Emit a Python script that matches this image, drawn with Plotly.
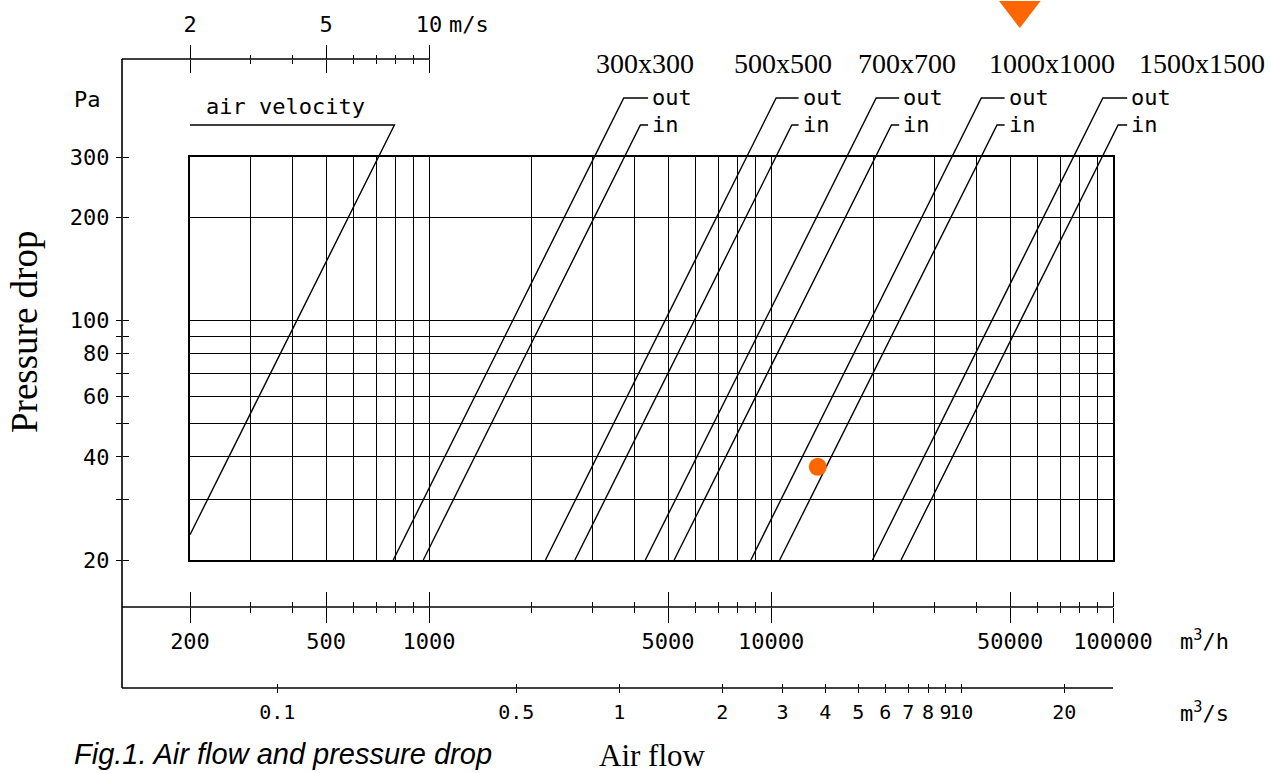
import math
import plotly.graph_objects as go

# ---------------- data ----------------
grid_flow = [200, 300, 400, 500, 600, 700, 800, 900, 1000,
             2000, 3000, 4000, 5000, 6000, 7000, 8000, 9000, 10000,
             20000, 30000, 40000, 50000, 60000, 70000, 80000, 90000, 100000]
grid_dp = [20, 30, 40, 50, 60, 70, 80, 90, 100, 200, 300]

flow_major = [200, 500, 1000, 5000, 10000, 50000, 100000]
flow_major_text = ["200", "500", "1000", "5000", "10000", "50000", "100000"]
flow_minor = [300, 400, 600, 700, 800, 900, 2000, 3000, 4000, 6000, 7000, 8000, 9000,
              20000, 30000, 40000, 60000, 70000, 80000, 90000]

dp_major = [20, 40, 60, 80, 100, 200, 300]
dp_major_text = ["20", "40", "60", "80", "100", "200", "300"]
dp_minor = [30, 50, 70, 90]

m3s_ticks = [0.1, 0.5, 1, 2, 3, 4, 5, 6, 7, 8, 9, 10, 20]
m3s_text = ["0.1", "0.5", "1", "2", "3", "4", "5", "6", "7", "8", "9", "10", "20"]

vel_major = [2, 5, 10]
vel_major_text = ["2", "5", "10"]
vel_minor = [3, 4, 6, 7, 8, 9]

sizes = ["300x300", "500x500", "700x700", "1000x1000", "1500x1500"]
out_flow_20pa = [786, 2190, 4290, 8730, 19800]
in_flow_20pa = [962, 2670, 5210, 10600, 24000]
out_flow_top = [3710, 10350, 20300, 41200, 93400]
in_flow_top = [4150, 11500, 22500, 45800, 103500]
leader_end_flow = [4370, 12040, 23700, 48200, 110000]
out_top_dp = 446
in_top_dp = 372
start_dp = 20

vel_line_flow = [200, 792, 200]
vel_line_dp = [23.7, 372, 372]

point_flow = [13700]
point_dp = [37.4]
pointer_flow = [53400]
pointer_dp = [805]

# ---------------- layout geometry ----------------
W, H = 1270, 773
L10 = math.log10


def lx(px):  # pixel x -> log10(flow m3/h)
    return L10(200) + (px - 190) * (5 - L10(200)) / (1113 - 190)


def ly(py):  # pixel y -> log10(Pa)
    return L10(20) + (560 - py) * (L10(300) - L10(20)) / (560 - 157)


def fx(px):
    return px / W


def fy(py):
    return 1 - py / H


CAD = "DejaVu Sans Mono, monospace"
SERIF = "Liberation Serif, Times New Roman, serif"
BLACK = "#000000"
ORANGE = "#FF6600"
LW = 1.4

xr_full = [lx(0), lx(W)]
yr_full = [ly(H), ly(0)]
LOG3600 = L10(3600)

fig = go.Figure()


def dummy(xa, ya, xs, ys):
    fig.add_trace(go.Scatter(x=xs, y=ys, xaxis=xa, yaxis=ya, mode="markers",
                             marker=dict(opacity=0), hoverinfo="skip", showlegend=False))


dummy("x", "y", grid_flow, [grid_dp[0]] * len(grid_flow))
dummy("x3", "y2", flow_major, [grid_dp[0]] * len(flow_major))
dummy("x4", "y2", m3s_ticks, [grid_dp[0]] * len(m3s_ticks))
dummy("x5", "y2", m3s_ticks, [grid_dp[0]] * len(m3s_ticks))
dummy("x6", "y2", vel_major, [grid_dp[0]] * len(vel_major))
dummy("x7", "y2", vel_major, [grid_dp[0]] * len(vel_major))
dummy("x2", "y3", grid_flow[:len(dp_major)], dp_major)

# air velocity reference line
fig.add_trace(go.Scatter(x=vel_line_flow, y=vel_line_dp, xaxis="x2", yaxis="y2",
                         mode="lines", line=dict(color=BLACK, width=LW),
                         hoverinfo="skip", showlegend=False))

# out / in lines with leaders
for i in range(len(sizes)):
    fig.add_trace(go.Scatter(
        x=[out_flow_20pa[i], out_flow_top[i], leader_end_flow[i]],
        y=[start_dp, out_top_dp, out_top_dp], xaxis="x2", yaxis="y2",
        mode="lines", line=dict(color=BLACK, width=LW), name=sizes[i] + " out",
        showlegend=False))
    fig.add_trace(go.Scatter(
        x=[in_flow_20pa[i], in_flow_top[i], leader_end_flow[i]],
        y=[start_dp, in_top_dp, in_top_dp], xaxis="x2", yaxis="y2",
        mode="lines", line=dict(color=BLACK, width=LW), name=sizes[i] + " in",
        showlegend=False))

# orange operating point and pointer
fig.add_trace(go.Scatter(x=point_flow, y=point_dp, xaxis="x2", yaxis="y2", mode="markers",
                         marker=dict(color=ORANGE, size=18, line=dict(width=0)),
                         showlegend=False))
fig.add_trace(go.Scatter(x=pointer_flow, y=pointer_dp, xaxis="x2", yaxis="y2", mode="markers",
                         marker=dict(color=ORANGE, size=36, symbol="triangle-down",
                                     line=dict(width=0)),
                         showlegend=False))

tickfont = dict(family=CAD, size=22, color=BLACK)
common_hidden = dict(showgrid=False, zeroline=False, showline=False, fixedrange=True)

fig.update_layout(
    width=W, height=H, margin=dict(l=0, r=0, t=0, b=0), autosize=False,
    paper_bgcolor="white", plot_bgcolor="rgba(0,0,0,0)", showlegend=False,
    template="none",
    xaxis=dict(type="log", domain=[fx(190), fx(1113)], range=[L10(200), 5], anchor="y",
               tickmode="array", tickvals=grid_flow, showticklabels=False, ticks="",
               showgrid=True, gridcolor=BLACK, gridwidth=1.4, zeroline=False,
               showline=True, mirror=True, linecolor=BLACK, linewidth=1.6, fixedrange=True),
    yaxis=dict(type="log", domain=[fy(560), fy(157)], range=[L10(20), L10(300)], anchor="x",
               tickmode="array", tickvals=grid_dp, showticklabels=False, ticks="",
               showgrid=True, gridcolor=BLACK, gridwidth=1.4, zeroline=False,
               showline=True, mirror=True, linecolor=BLACK, linewidth=1.6, fixedrange=True),
    xaxis2=dict(type="log", domain=[0, 1], range=xr_full, anchor="free", position=fy(607),
                side="bottom", tickmode="array", tickvals=flow_major, ticktext=flow_major_text,
                ticks="outside", ticklen=15, tickwidth=LW, tickcolor=BLACK, tickfont=tickfont,
                tickangle=0, ticklabelstandoff=0,
                minor=dict(tickmode="array", tickvals=flow_minor, ticks="outside", ticklen=5,
                           tickwidth=LW, tickcolor=BLACK, showgrid=False),
                **common_hidden),
    xaxis3=dict(type="log", overlaying="x2", range=xr_full, anchor="free", position=fy(607),
                side="bottom", tickmode="array", tickvals=flow_major, showticklabels=False,
                ticks="inside", ticklen=15, tickwidth=LW, tickcolor=BLACK,
                minor=dict(tickmode="array", tickvals=flow_minor, ticks="inside", ticklen=5,
                           tickwidth=LW, tickcolor=BLACK, showgrid=False),
                **common_hidden),
    xaxis4=dict(type="log", overlaying="x2", range=[xr_full[0] - LOG3600, xr_full[1] - LOG3600],
                anchor="free", position=fy(688), side="bottom", tickmode="array",
                tickvals=m3s_ticks, ticktext=m3s_text, ticks="outside", ticklen=4,
                tickwidth=LW, tickcolor=BLACK, tickfont=dict(family=CAD, size=20, color=BLACK),
                tickangle=0, ticklabelstandoff=2, **common_hidden),
    xaxis5=dict(type="log", overlaying="x2", range=[xr_full[0] - LOG3600, xr_full[1] - LOG3600],
                anchor="free", position=fy(688), side="bottom", tickmode="array",
                tickvals=m3s_ticks, showticklabels=False, ticks="inside", ticklen=4,
                tickwidth=LW, tickcolor=BLACK, **common_hidden),
    xaxis6=dict(type="log", overlaying="x2", range=[xr_full[0] - 2, xr_full[1] - 2],
                anchor="free", position=fy(59), side="top", tickmode="array",
                tickvals=vel_major, ticktext=vel_major_text, ticks="outside", ticklen=14,
                tickwidth=LW, tickcolor=BLACK, tickfont=tickfont, tickangle=0,
                ticklabelstandoff=4,
                minor=dict(tickmode="array", tickvals=vel_minor, ticks="outside", ticklen=4,
                           tickwidth=LW, tickcolor=BLACK, showgrid=False),
                **common_hidden),
    xaxis7=dict(type="log", overlaying="x2", range=[xr_full[0] - 2, xr_full[1] - 2],
                anchor="free", position=fy(59), side="top", tickmode="array",
                tickvals=vel_major, showticklabels=False, ticks="inside", ticklen=13,
                tickwidth=LW, tickcolor=BLACK,
                minor=dict(tickmode="array", tickvals=vel_minor, ticks="inside", ticklen=4,
                           tickwidth=LW, tickcolor=BLACK, showgrid=False),
                **common_hidden),
    yaxis2=dict(type="log", domain=[0, 1], range=yr_full, anchor="free", position=fx(122),
                side="left", tickmode="array", tickvals=dp_major, ticktext=dp_major_text,
                ticks="outside", ticklen=6, tickwidth=LW, tickcolor=BLACK, tickfont=tickfont,
                ticklabelstandoff=2,
                minor=dict(tickmode="array", tickvals=dp_minor, ticks="outside", ticklen=6,
                           tickwidth=LW, tickcolor=BLACK, showgrid=False),
                **common_hidden),
    yaxis3=dict(type="log", overlaying="y2", range=yr_full, anchor="free", position=fx(122),
                side="left", tickmode="array", tickvals=dp_major, showticklabels=False,
                ticks="inside", ticklen=6, tickwidth=LW, tickcolor=BLACK,
                minor=dict(tickmode="array", tickvals=dp_minor, ticks="inside", ticklen=6,
                           tickwidth=LW, tickcolor=BLACK, showgrid=False),
                **common_hidden),
)


def hline(x0, x1, y):
    fig.add_shape(type="line", xref="paper", yref="paper", x0=fx(x0), x1=fx(x1),
                  y0=fy(y), y1=fy(y), line=dict(color=BLACK, width=1.6))


def vline(x, y0, y1):
    fig.add_shape(type="line", xref="paper", yref="paper", x0=fx(x), x1=fx(x),
                  y0=fy(y0), y1=fy(y1), line=dict(color=BLACK, width=1.6))


vline(122, 59, 688)
hline(122, 430, 59)
hline(122, 1113, 607)
hline(122, 1113, 688)


def note(text, x, y, font, xanchor="left", yanchor="middle", textangle=0):
    fig.add_annotation(text=text, x=fx(x), y=fy(y), xref="paper", yref="paper",
                       showarrow=False, font=font, xanchor=xanchor, yanchor=yanchor,
                       textangle=textangle)


cadf = dict(family=CAD, size=22, color=BLACK)
note("m/s", 447, 25, cadf)
note("Pa", 72, 99, cadf)
note("air velocity", 204, 106, cadf)
note("m<sup>3</sup>/h", 1178, 640, cadf)
note("m<sup>3</sup>/s", 1178, 712, cadf)

size_x = [645, 783, 907, 1052, 1202]
for s, cx in zip(sizes, size_x):
    note(s, cx, 64, dict(family=SERIF, size=28, color=BLACK), xanchor="center")

for i in range(len(sizes)):
    for lab, dp in (("out", out_top_dp), ("in", in_top_dp)):
        fig.add_annotation(text=lab, x=L10(leader_end_flow[i]), y=L10(dp), xref="x2", yref="y2",
                           showarrow=False, font=cadf, xanchor="left", yanchor="middle",
                           xshift=2)

note("Pressure drop", 25, 332, dict(family=SERIF, size=37, color=BLACK),
     xanchor="center", textangle=-90)
note("Air flow", 597, 755, dict(family=SERIF, size=31, color=BLACK))
note("<i>Fig.1. Air flow and pressure drop</i>", 72, 754,
     dict(family="Liberation Sans, Arial, sans-serif", size=29, color=BLACK))

fig.write_html("out.html", config={"displayModeBar": False},
               post_script="document.body.style.margin='0px';")
